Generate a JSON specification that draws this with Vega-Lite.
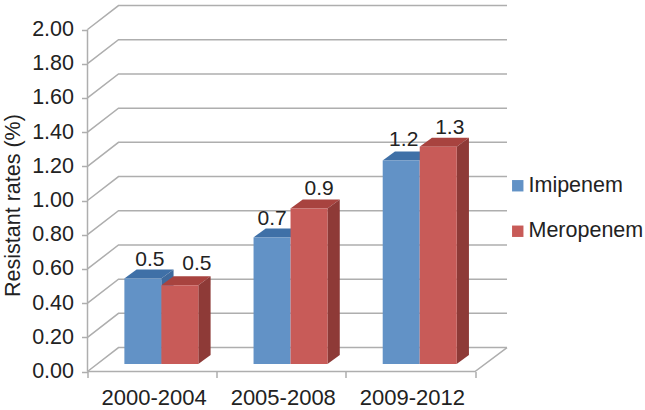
{
"$schema":"https://vega.github.io/schema/vega-lite/v6.json",
"width":420,"height":366.5,
"autosize":"none",
"padding":{"left":87.5,"top":5,"right":137.5,"bottom":38.5},
"background":"white",
"config":{"font":"Liberation Sans","view":{"stroke":null}},
"datasets":{
"bars":[
{"period":"2000-2004","series":"Imipenem","value":0.50},
{"period":"2000-2004","series":"Meropenem","value":0.46},
{"period":"2005-2008","series":"Imipenem","value":0.74},
{"period":"2005-2008","series":"Meropenem","value":0.91},
{"period":"2009-2012","series":"Imipenem","value":1.19},
{"period":"2009-2012","series":"Meropenem","value":1.27}
],
"wall":[
{"line":"g0","x":0,"y":0},{"line":"g0","x":0.24,"y":0.14},{"line":"g0","x":3.2477,"y":0.14},
{"line":"g1","x":0,"y":0.2},{"line":"g1","x":0.24,"y":0.34},{"line":"g1","x":3.2477,"y":0.34},
{"line":"g2","x":0,"y":0.4},{"line":"g2","x":0.24,"y":0.54},{"line":"g2","x":3.2477,"y":0.54},
{"line":"g3","x":0,"y":0.6},{"line":"g3","x":0.24,"y":0.74},{"line":"g3","x":3.2477,"y":0.74},
{"line":"g4","x":0,"y":0.8},{"line":"g4","x":0.24,"y":0.94},{"line":"g4","x":3.2477,"y":0.94},
{"line":"g5","x":0,"y":1.0},{"line":"g5","x":0.24,"y":1.14},{"line":"g5","x":3.2477,"y":1.14},
{"line":"g6","x":0,"y":1.2},{"line":"g6","x":0.24,"y":1.34},{"line":"g6","x":3.2477,"y":1.34},
{"line":"g7","x":0,"y":1.4},{"line":"g7","x":0.24,"y":1.54},{"line":"g7","x":3.2477,"y":1.54},
{"line":"g8","x":0,"y":1.6},{"line":"g8","x":0.24,"y":1.74},{"line":"g8","x":3.2477,"y":1.74},
{"line":"g9","x":0,"y":1.8},{"line":"g9","x":0.24,"y":1.94},{"line":"g9","x":3.2477,"y":1.94},
{"line":"g10","x":0,"y":2.0},{"line":"g10","x":0.24,"y":2.14},{"line":"g10","x":3.2477,"y":2.14},
{"line":"axisY","x":0,"y":0},{"line":"axisY","x":0,"y":2},
{"line":"floor","x":0,"y":0},{"line":"floor","x":3,"y":0},{"line":"floor","x":3.2477,"y":0.14}
],
"faces":[
{"face":"a1","shade":"Imipenem top","x":0.2849,"y":0.5439,"y2":0.5439},
{"face":"a1","shade":"Imipenem top","x":0.3801,"y":0.5439,"y2":0.5965},
{"face":"a1","shade":"Imipenem top","x":0.5713,"y":0.5439,"y2":0.5965},
{"face":"a1","shade":"Imipenem top","x":0.6665,"y":0.5965,"y2":0.5965},
{"face":"a2","shade":"Imipenem side","x":0.5713,"y":0.0439,"y2":0.5439},
{"face":"a2","shade":"Imipenem side","x":0.6665,"y":0.0965,"y2":0.5965},
{"face":"a3","shade":"Meropenem top","x":0.5713,"y":0.5039,"y2":0.5039},
{"face":"a3","shade":"Meropenem top","x":0.6665,"y":0.5039,"y2":0.5565},
{"face":"a3","shade":"Meropenem top","x":0.8578,"y":0.5039,"y2":0.5565},
{"face":"a3","shade":"Meropenem top","x":0.953,"y":0.5565,"y2":0.5565},
{"face":"a4","shade":"Meropenem side","x":0.8578,"y":0.0439,"y2":0.5039},
{"face":"a4","shade":"Meropenem side","x":0.953,"y":0.0965,"y2":0.5565},
{"face":"b1","shade":"Imipenem top","x":1.2849,"y":0.7839,"y2":0.7839},
{"face":"b1","shade":"Imipenem top","x":1.3801,"y":0.7839,"y2":0.8365},
{"face":"b1","shade":"Imipenem top","x":1.5713,"y":0.7839,"y2":0.8365},
{"face":"b1","shade":"Imipenem top","x":1.6665,"y":0.8365,"y2":0.8365},
{"face":"b3","shade":"Meropenem top","x":1.5713,"y":0.9539,"y2":0.9539},
{"face":"b3","shade":"Meropenem top","x":1.6665,"y":0.9539,"y2":1.0065},
{"face":"b3","shade":"Meropenem top","x":1.8578,"y":0.9539,"y2":1.0065},
{"face":"b3","shade":"Meropenem top","x":1.953,"y":1.0065,"y2":1.0065},
{"face":"b4","shade":"Meropenem side","x":1.8578,"y":0.0439,"y2":0.9539},
{"face":"b4","shade":"Meropenem side","x":1.953,"y":0.0965,"y2":1.0065},
{"face":"c1","shade":"Imipenem top","x":2.2849,"y":1.2339,"y2":1.2339},
{"face":"c1","shade":"Imipenem top","x":2.3801,"y":1.2339,"y2":1.2865},
{"face":"c1","shade":"Imipenem top","x":2.5713,"y":1.2339,"y2":1.2865},
{"face":"c1","shade":"Imipenem top","x":2.6665,"y":1.2865,"y2":1.2865},
{"face":"c3","shade":"Meropenem top","x":2.5713,"y":1.3139,"y2":1.3139},
{"face":"c3","shade":"Meropenem top","x":2.6665,"y":1.3139,"y2":1.3665},
{"face":"c3","shade":"Meropenem top","x":2.8578,"y":1.3139,"y2":1.3665},
{"face":"c3","shade":"Meropenem top","x":2.953,"y":1.3665,"y2":1.3665},
{"face":"c4","shade":"Meropenem side","x":2.8578,"y":0.0439,"y2":1.3139},
{"face":"c4","shade":"Meropenem side","x":2.953,"y":0.0965,"y2":1.3665}
]
},
"layer":[
{
"resolve":{"axis":{"x":"independent","y":"independent"}},
"layer":[
{
"data":{"name":"wall"},
"mark":{"type":"line","stroke":"#aeaeae","strokeWidth":1.5,"clip":false},
"encoding":{
"x":{"field":"x","type":"quantitative","scale":{"domain":[0,3.2515],"nice":false,"zero":false},
"axis":{"title":null,"domain":false,"grid":false,"values":[0,0.5,1,1.5,2,2.5,3],
"labelExpr":"datum.value==0.5?'2000-2004':datum.value==1.5?'2005-2008':datum.value==2.5?'2009-2012':''",
"labelFontSize":22,"labelColor":"#222222","labelPadding":10,"labelOffset":1.5,"labelOverlap":false,"labelFlush":false,"labelBound":false,
"tickSize":6,"tickWidth":1.5,"tickColor":{"condition":{"test":"datum.value%1==0","value":"#aeaeae"},"value":"transparent"}}},
"y":{"field":"y","type":"quantitative","scale":{"domain":[0,2.1433],"nice":false,"zero":false},
"axis":{"title":"Resistant rates (%)","titleFontSize":21.5,"titleFontWeight":"normal","titleColor":"#222222","titleX":-74,"titleY":200,"titleBaseline":"middle","titleAngle":270,
"domain":false,"grid":false,"values":[0,0.2,0.4,0.6,0.8,1,1.2,1.4,1.6,1.8,2],"format":".2f",
"labelFontSize":21.5,"labelColor":"#222222","labelPadding":8,"labelOverlap":false,"labelFlush":false,"labelBound":false,
"tickSize":6,"tickWidth":1.5,"tickColor":"#aeaeae"}},
"detail":{"field":"line"}
}
},
{
"data":{"name":"faces"},
"mark":{"type":"area","orient":"vertical","interpolate":"linear"},
"encoding":{
"x":{"field":"x","type":"quantitative","axis":null},
"y":{"field":"y","type":"quantitative","stack":null,"axis":null},
"y2":{"field":"y2"},
"detail":{"field":"face"},
"fill":{"field":"shade","type":"nominal","legend":null,"scale":{"domain":["Imipenem top","Imipenem side","Meropenem top","Meropenem side"],"range":["#3f70a7","#3f6a9d","#a8433f","#8e3a37"]}}
}
}
]
},
{
"encoding":{
"x":{"field":"period","type":"nominal","axis":null,"scale":{"domain":["2000-2004","2005-2008","2009-2012"],"range":[9.3,396.8],"paddingInner":0.427,"paddingOuter":0.2135}},
"xOffset":{"field":"series","type":"nominal","scale":{"domain":["Imipenem","Meropenem"]}},
"y":{"field":"value","type":"quantitative","axis":null,"scale":{"domain":[0,2],"range":[359,17],"nice":false}},
"text":{"field":"value","type":"quantitative","format":".1f"}
},
"data":{"name":"bars"},
"layer":[
{
"mark":{"type":"bar"},
"encoding":{
"color":{"field":"series","type":"nominal","scale":{"domain":["Imipenem","Meropenem"],"range":["#6292c6","#c85b58"]},
"legend":{"title":null,"orient":"none","legendX":419.5,"legendY":170,"padding":0,"symbolType":"square","symbolSize":130,"symbolStrokeWidth":0,"labelFontSize":21.5,"labelColor":"#222222","labelOffset":0,"rowPadding":22.5}}
}
},
{"transform":[{"filter":"datum.period=='2000-2004'&&datum.series=='Imipenem'"}],
"mark":{"type":"text","fontSize":21,"color":"#222222","dx":7,"dy":-18.5,"baseline":"middle"}},
{"transform":[{"filter":"datum.period=='2000-2004'&&datum.series=='Meropenem'"}],
"mark":{"type":"text","fontSize":21,"color":"#222222","dx":17,"dy":-21.3,"baseline":"middle"}},
{"transform":[{"filter":"datum.period=='2005-2008'&&datum.series=='Imipenem'"}],
"mark":{"type":"text","fontSize":21,"color":"#222222","dx":0,"dy":-18.5,"baseline":"middle"}},
{"transform":[{"filter":"datum.period=='2005-2008'&&datum.series=='Meropenem'"}],
"mark":{"type":"text","fontSize":21,"color":"#222222","dx":10,"dy":-19.4,"baseline":"middle"}},
{"transform":[{"filter":"datum.period=='2009-2012'&&datum.series=='Imipenem'"}],
"mark":{"type":"text","fontSize":21,"color":"#222222","dx":2.5,"dy":-20.5,"baseline":"middle"}},
{"transform":[{"filter":"datum.period=='2009-2012'&&datum.series=='Meropenem'"}],
"mark":{"type":"text","fontSize":21,"color":"#222222","dx":11.5,"dy":-18.8,"baseline":"middle"}}
]
}
],
"resolve":{"scale":{"x":"independent","y":"independent","fill":"independent","color":"independent"}}
}
